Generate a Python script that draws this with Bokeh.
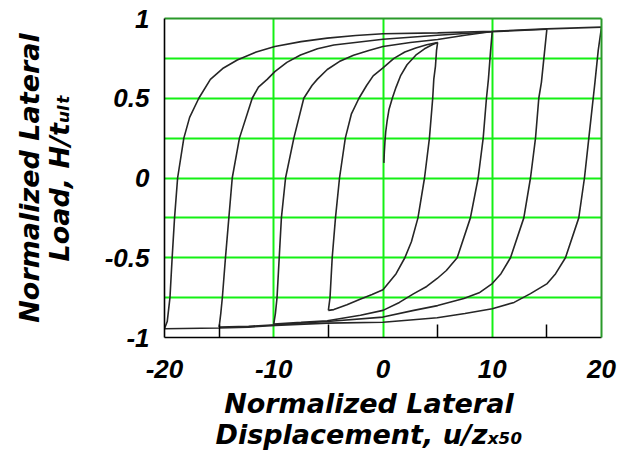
from bokeh.plotting import figure
from bokeh.models import Range1d, LinearAxis, FixedTicker, Grid
from bokeh.embed import file_html
from bokeh.resources import INLINE

# ---- hysteresis branches: normalized displacement u/z_x50 vs normalized load H/t_ult ----
virgin_x = [0.08, 0.12, 0.18, 0.25, 0.38, 0.55, 0.85, 1.2, 1.6, 2.2, 3.0, 3.8, 4.5, 5.0]
virgin_y = [0.095, 0.16, 0.23, 0.29, 0.36, 0.43, 0.50, 0.57, 0.64, 0.71, 0.77, 0.81, 0.835, 0.85]

unload5_x = [5.0, 4.9, 4.8, 4.65, 4.55, 4.25, 3.8, 3.2, 2.6, 2.0, 1.2, 0.0, -1.0, -2.1, -3.3, -4.5, -5.0]
unload5_y = [0.85, 0.80, 0.70, 0.62, 0.50, 0.25, 0.0, -0.25, -0.40, -0.50, -0.60, -0.70, -0.73, -0.76, -0.795, -0.825, -0.83]
reload5_x = [-5.0, -4.85, -4.65, -4.35, -3.98, -3.45, -2.9, -2.2, -1.5, -0.9, 0.0, 1.0, 2.0, 3.0, 4.0, 5.0]
reload5_y = [-0.83, -0.75, -0.50, -0.25, 0.0, 0.25, 0.40, 0.50, 0.58, 0.64, 0.69, 0.75, 0.79, 0.815, 0.835, 0.85]

unload10_x = [10.0, 9.85, 9.65, 9.47, 9.17, 8.71, 8.0, 6.79, 5.8, 4.96, 4.0, 2.82, 1.5, 0.0, -2.06, -5.1, -7.5, -10.0]
unload10_y = [0.919, 0.80, 0.62, 0.50, 0.25, 0.0, -0.25, -0.50, -0.58, -0.63, -0.68, -0.725, -0.78, -0.83, -0.861, -0.895, -0.905, -0.915]
reload10_x = [-10.0, -9.85, -9.7, -9.5, -9.3, -8.92, -8.16, -7.25, -6.5, -6.0, -5.1, -4.0, -2.7, -1.3, 0.0, 2.5, 5.0, 7.5, 10.0]
reload10_y = [-0.915, -0.85, -0.75, -0.50, -0.25, 0.0, 0.25, 0.50, 0.58, 0.62, 0.68, 0.73, 0.77, 0.80, 0.824, 0.85, 0.868, 0.895, 0.919]

unload15_x = [15.0, 14.8, 14.5, 14.26, 13.96, 13.5, 12.89, 11.67, 10.8, 10.0, 8.8, 7.4, 5.0, 2.82, 0.0, -5.1, -9.84, -12.3, -15.0]
unload15_y = [0.933, 0.80, 0.60, 0.50, 0.25, 0.0, -0.25, -0.50, -0.60, -0.662, -0.72, -0.756, -0.80, -0.83, -0.872, -0.90, -0.92, -0.93, -0.935]
reload15_x = [-15.0, -14.85, -14.7, -14.42, -14.11, -13.8, -13.14, -11.97, -11.4, -10.6, -9.9, -8.8, -7.55, -6.0, -4.5, 0.0, 5.0, 10.0, 15.0]
reload15_y = [-0.935, -0.85, -0.746, -0.50, -0.25, 0.0, 0.25, 0.50, 0.57, 0.618, 0.667, 0.725, 0.771, 0.81, 0.834, 0.87, 0.895, 0.917, 0.933]

unload20_x = [20.0, 19.7, 19.4, 19.24, 18.84, 18.44, 17.92, 16.7, 15.8, 15.03, 13.5, 12.0, 10.0, 7.5, 4.96, 2.5, 0.0, -5.1, -9.84, -12.3, -15.0, -20.0]
unload20_y = [0.946, 0.80, 0.60, 0.50, 0.25, 0.0, -0.25, -0.50, -0.60, -0.662, -0.725, -0.78, -0.82, -0.85, -0.876, -0.89, -0.904, -0.91, -0.924, -0.935, -0.94, -0.945]
reload20_x = [-20.0, -19.75, -19.5, -19.3, -19.08, -18.8, -18.23, -17.7, -16.86, -15.8, -14.6, -13.34, -11.6, -9.9, -7.5, -5.1, -2.5, 0.0, 5.0, 10.0, 15.0, 20.0]
reload20_y = [-0.945, -0.90, -0.75, -0.50, -0.25, 0.0, 0.25, 0.38, 0.50, 0.618, 0.69, 0.74, 0.79, 0.824, 0.855, 0.877, 0.893, 0.904, 0.91, 0.92, 0.935, 0.946]

# ---- axes ----
x_ticks = [-20, -10, 0, 10, 20]
x_tick_labels = ["-20", "-10", "0", "10", "20"]
x_minor_ticks = [-15, -5, 5, 15]
x_grid = [-10, 0, 10]
y_ticks = [-1, -0.5, 0, 0.5, 1]
y_tick_labels = ["-1", "-0.5", "0", "0.5", "1"]
y_grid = [-0.75, -0.5, -0.25, 0, 0.25, 0.5, 0.75]

# trailing no-break spaces nudge the centred x title a little to the left
PAD = "\u00a0" * 3
x_title = "Normalized Lateral" + PAD + "\nDisplacement, u/z\u2093\u2085\u2080" + PAD
y_title = "Normalized Lateral\nLoad, H/t\u1d64\u2097\u209c"

W, H = 634, 456
FL, FR, FT, FB = 164, 601, 18, 337   # frame edges on the page

GRID_GREEN = "#14f014"
EDGE_GREEN = "#2a9a2a"
CURVE = "#262626"
TICK_FONT = "Liberation Sans"
TITLE_FONT = "DejaVu Sans"

p = figure(width=W, height=H, output_backend="svg", toolbar_location=None,
           x_range=Range1d(-20, 20), y_range=Range1d(-1, 1),
           x_axis_type=None, y_axis_type=None,
           min_border_left=FL, min_border_right=W - FR,
           min_border_top=FT, min_border_bottom=H - FB)
p.outline_line_color = None
p.background_fill_color = "white"
p.border_fill_color = "white"

p.add_layout(Grid(dimension=0, ticker=FixedTicker(ticks=x_grid),
                  grid_line_color=GRID_GREEN, grid_line_width=2))
p.add_layout(Grid(dimension=1, ticker=FixedTicker(ticks=y_grid),
                  grid_line_color=GRID_GREEN, grid_line_width=2))

branches_x = [virgin_x, unload5_x, reload5_x, unload10_x, reload10_x,
              unload15_x, reload15_x, unload20_x, reload20_x]
branches_y = [virgin_y, unload5_y, reload5_y, unload10_y, reload10_y,
              unload15_y, reload15_y, unload20_y, reload20_y]
p.multi_line(xs=branches_x, ys=branches_y, line_color=CURVE, line_width=1.6)


def style_axis(ax, standoff, title_standoff, line_height):
    ax.major_label_text_font = TICK_FONT
    ax.major_label_text_font_style = "bold italic"
    ax.major_label_text_font_size = "26px"
    ax.major_label_text_color = "black"
    ax.major_label_standoff = standoff
    ax.major_tick_line_color = None
    ax.major_tick_in = 0
    ax.major_tick_out = 0
    ax.axis_line_color = "black"
    ax.axis_line_width = 1.6
    ax.axis_label_text_font = TITLE_FONT
    ax.axis_label_text_font_style = "bold italic"
    ax.axis_label_text_font_size = "27px"
    ax.axis_label_text_color = "black"
    ax.axis_label_standoff = title_standoff
    ax.axis_label_text_line_height = line_height


xaxis = LinearAxis(ticker=FixedTicker(ticks=x_ticks, minor_ticks=x_minor_ticks),
                   major_label_overrides=dict(zip(x_ticks, x_tick_labels)),
                   axis_label=x_title)
style_axis(xaxis, 22, 7, 1.0)
xaxis.minor_tick_in = 13
xaxis.minor_tick_out = 0
xaxis.minor_tick_line_color = "black"
xaxis.minor_tick_line_width = 1.5
p.add_layout(xaxis, "below")

yaxis = LinearAxis(ticker=FixedTicker(ticks=y_ticks),
                   major_label_overrides=dict(zip(y_ticks, y_tick_labels)),
                   axis_label=y_title)
style_axis(yaxis, 15, 27, 0.95)
yaxis.minor_tick_line_color = None
p.add_layout(yaxis, "left")

# plain green edges on the top and right of the frame
for side in ("above", "right"):
    edge = LinearAxis(ticker=FixedTicker(ticks=[]), axis_line_color=EDGE_GREEN,
                      axis_line_width=2, major_tick_line_color=None,
                      minor_tick_line_color=None, major_label_text_font_size="0px",
                      major_label_standoff=0, major_tick_out=0, major_tick_in=0)
    p.add_layout(edge, side)

open("out.html", "w").write(file_html(p, INLINE))
